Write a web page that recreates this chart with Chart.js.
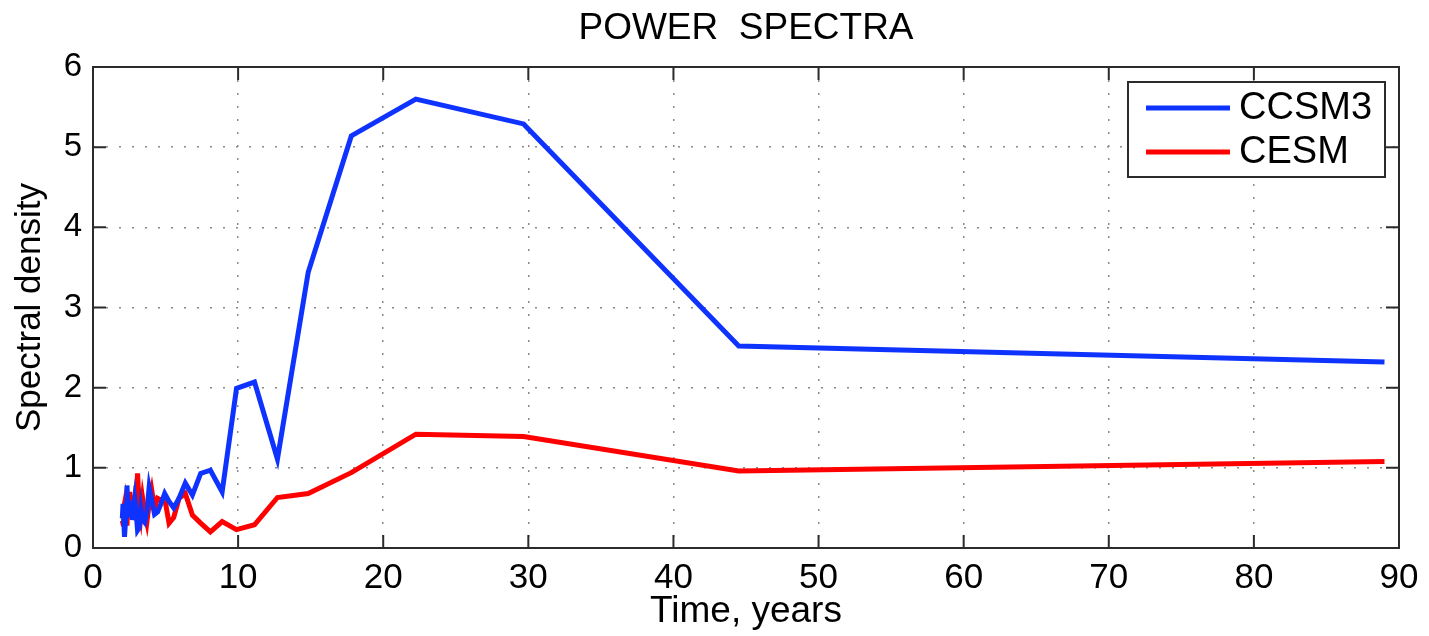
<!DOCTYPE html>
<html lang="en">
<head>
    <meta charset="UTF-8">
    <title>Power Spectra</title>
    <script src="https://cdn.jsdelivr.net/npm/chart.js"></script>
    <style>
        html, body { margin: 0; padding: 0; background: #fff; }
    </style>
</head>
<body>

    <canvas id="spectraChart" width="1429" height="636"></canvas>

    <script>
        // period of each spectral estimate (years), left to right
        const periods = [2.02, 2.07, 2.12, 2.17, 2.23, 2.28, 2.34, 2.41, 2.47, 2.54,
                         2.62, 2.70, 2.78, 2.87, 2.97, 3.07, 3.18, 3.30, 3.42, 3.56,
                         3.71, 3.87, 4.05, 4.24, 4.45, 4.68, 4.94, 5.24, 5.56, 5.93,
                         6.36, 6.85, 7.42, 8.09, 8.90, 9.89, 11.13, 12.71, 14.83, 17.8,
                         22.25, 29.67, 44.5, 89];

        const ccsm3 = [0.37, 0.55, 0.35, 0.14, 0.30, 0.55, 0.78, 0.45, 0.60, 0.38,
                       0.55, 0.35, 0.50, 0.62, 0.45, 0.22, 0.25, 0.50, 0.35, 0.32,
                       0.45, 0.76, 0.60, 0.42, 0.45, 0.55, 0.68, 0.58, 0.50, 0.62,
                       0.81, 0.66, 0.93, 0.97, 0.70, 1.99, 2.07, 1.11, 3.44, 5.14,
                       5.60, 5.29, 2.52, 2.32];

        const cesm = [0.34, 0.30, 0.50, 0.55, 0.35, 0.50, 0.28, 0.60, 0.45, 0.70,
                      0.40, 0.65, 0.35, 0.55, 0.45, 0.93, 0.55, 0.40, 0.62, 0.45,
                      0.32, 0.55, 0.72, 0.50, 0.62, 0.60, 0.62, 0.31, 0.38, 0.62,
                      0.68, 0.41, 0.31, 0.20, 0.33, 0.23, 0.29, 0.63, 0.68, 0.94,
                      1.42, 1.39, 0.96, 1.08];

        const xTicks = [0, 10, 20, 30, 40, 50, 60, 70, 80, 90];
        const yTicks = [0, 1, 2, 3, 4, 5, 6];

        const chartTitle = "POWER  SPECTRA";
        const FONT = "'Liberation Sans', Arial, sans-serif";

        function toPoints(values) {
            return periods.map((p, i) => ({ x: p, y: values[i] }));
        }

        // matlab style frame: title over the axes, solid box, inward ticks, boxed legend
        const matlabFrame = {
            id: "matlabFrame",
            afterDatasetsDraw(chart) {
                const { ctx, chartArea: a, scales: { x, y } } = chart;
                ctx.save();

                ctx.fillStyle = "#000";
                ctx.font = "37px " + FONT;
                ctx.textAlign = "center";
                ctx.textBaseline = "alphabetic";
                ctx.fillText(chartTitle, (a.left + a.right) / 2, 39);

                ctx.strokeStyle = "#2b2b2b";
                ctx.lineWidth = 2;
                ctx.strokeRect(a.left, a.top, a.width, a.height);

                ctx.beginPath();
                x.ticks.forEach(t => {
                    const px = x.getPixelForValue(t.value);
                    ctx.moveTo(px, a.bottom); ctx.lineTo(px, a.bottom - 13);
                    ctx.moveTo(px, a.top); ctx.lineTo(px, a.top + 13);
                });
                y.ticks.forEach(t => {
                    const py = y.getPixelForValue(t.value);
                    ctx.moveTo(a.left, py); ctx.lineTo(a.left + 13, py);
                    ctx.moveTo(a.right, py); ctx.lineTo(a.right - 13, py);
                });
                ctx.stroke();

                // legend
                const lx = a.right - 271, ly = a.top + 15, lw = 257, lh = 95;
                ctx.fillStyle = "#fff";
                ctx.fillRect(lx, ly, lw, lh);
                ctx.strokeRect(lx, ly, lw, lh);
                ctx.font = "38px " + FONT;
                ctx.textAlign = "left";
                ctx.textBaseline = "middle";
                chart.data.datasets.forEach((ds, i) => {
                    const ry = ly + 26 + i * 44;
                    ctx.strokeStyle = ds.borderColor;
                    ctx.lineWidth = 5;
                    ctx.beginPath();
                    ctx.moveTo(lx + 18, ry);
                    ctx.lineTo(lx + 102, ry);
                    ctx.stroke();
                    ctx.fillStyle = "#000";
                    ctx.fillText(ds.label, lx + 111, ry + 1);
                });
                ctx.restore();
            }
        };

        const ctx = document.getElementById("spectraChart").getContext("2d");

        new Chart(ctx, {
            type: "line",
            data: {
                datasets: [
                    { label: "CCSM3", data: toPoints(ccsm3), borderColor: "#0f33ff", borderWidth: 5 },
                    { label: "CESM", data: toPoints(cesm), borderColor: "#ff0000", borderWidth: 5 }
                ]
            },
            options: {
                responsive: false,
                animation: false,
                layout: { padding: { top: 67, right: 30 } },
                elements: { point: { radius: 0 }, line: { tension: 0 } },
                plugins: {
                    legend: { display: false },
                    tooltip: { enabled: false },
                    title: { display: false }
                },
                scales: {
                    x: {
                        type: "linear",
                        min: 0,
                        max: 90,
                        afterBuildTicks: s => { s.ticks = xTicks.map(v => ({ value: v })); },
                        afterFit: s => { s.height = 88; },
                        ticks: { color: "#000", font: { family: FONT, size: 35 }, padding: 9, maxRotation: 0 },
                        grid: { color: "#8a8a8a", lineWidth: 1.5, drawTicks: false },
                        border: { display: false, dash: [2, 11] },
                        title: {
                            display: true,
                            text: "Time, years",
                            color: "#000",
                            font: { family: FONT, size: 37, lineHeight: 1.2 },
                            padding: { top: 0, bottom: 2 }
                        }
                    },
                    y: {
                        min: 0,
                        max: 6,
                        afterBuildTicks: s => { s.ticks = yTicks.map(v => ({ value: v })); },
                        afterFit: s => { s.width = 93; },
                        ticks: { color: "#000", font: { family: FONT, size: 33 }, padding: 11 },
                        grid: { color: "#8a8a8a", lineWidth: 1.5, drawTicks: false },
                        border: { display: false, dash: [2, 11] },
                        title: {
                            display: true,
                            text: "Spectral density",
                            color: "#000",
                            font: { family: FONT, size: 35, lineHeight: 1.2 },
                            padding: { top: 9, bottom: 0 }
                        }
                    }
                }
            },
            plugins: [matlabFrame]
        });
    </script>

</body>
</html>
